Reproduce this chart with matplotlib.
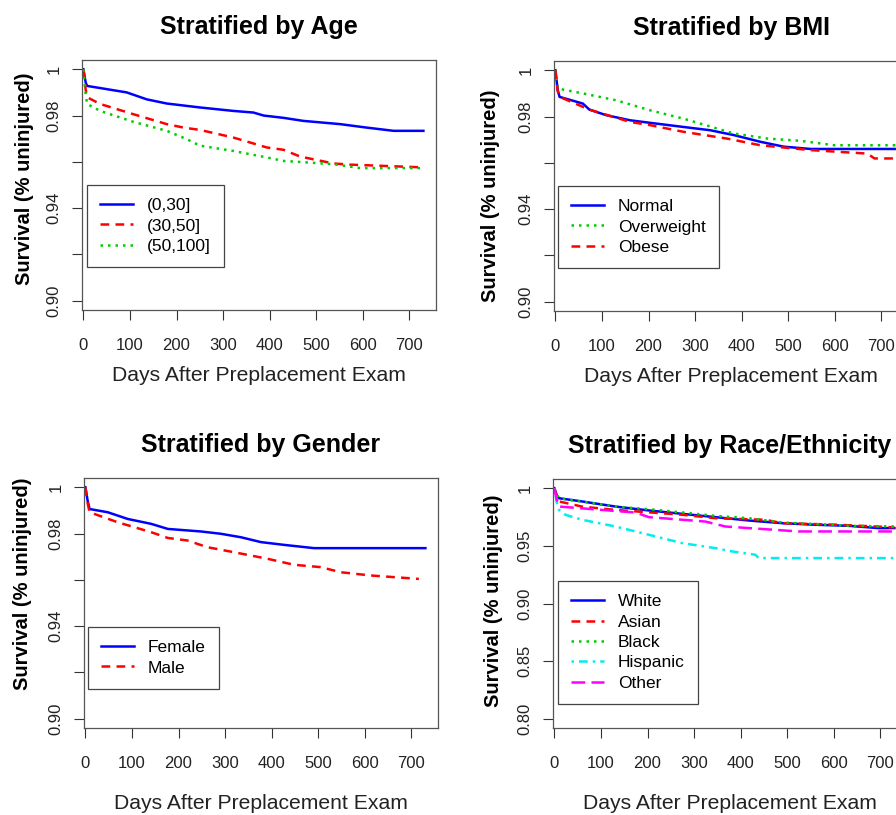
import numpy as np
import matplotlib.pyplot as plt

plt.rcParams['font.family'] = ['Liberation Sans', 'DejaVu Sans']

# ---- data ----
# Stratified by Age
age_labels = ["(0,30]", "(30,50]", "(50,100]"]
age_days = [
    [0, 5, 8, 93, 136, 179, 250, 322, 365, 387, 430, 472, 551, 608, 666, 730],
    [0, 5, 9, 36, 107, 179, 215, 250, 322, 394, 430, 465, 537, 573, 730],
    [0, 5, 8, 36, 107, 179, 222, 250, 322, 394, 430, 537, 594, 730],
]
age_surv = [
    [1.0, 0.9942, 0.9928, 0.990, 0.987, 0.9852, 0.9835, 0.982, 0.9813, 0.980, 0.979, 0.9777, 0.9763, 0.9748, 0.9734, 0.9734],
    [1.0, 0.991, 0.9878, 0.985, 0.9806, 0.9763, 0.9748, 0.9738, 0.9705, 0.9662, 0.9652, 0.9623, 0.9593, 0.9588, 0.9576],
    [1.0, 0.989, 0.985, 0.982, 0.9773, 0.9734, 0.9698, 0.967, 0.9647, 0.9619, 0.9604, 0.959, 0.9573, 0.9573],
]

# Stratified by BMI
bmi_labels = ["Normal", "Overweight", "Obese"]
bmi_days = [
    [0, 5, 9, 59, 73, 109, 160, 203, 275, 332, 383, 440, 490, 548, 730],
    [0, 5, 59, 131, 203, 275, 383, 455, 527, 599, 730],
    [0, 5, 9, 73, 160, 203, 275, 368, 440, 548, 670, 685, 730],
]
bmi_surv = [
    [1.0, 0.9914, 0.9885, 0.9856, 0.983, 0.9806, 0.9784, 0.9773, 0.9755, 0.9741, 0.972, 0.9691, 0.967, 0.966, 0.966],
    [1.0, 0.9921, 0.990, 0.987, 0.9827, 0.9791, 0.9727, 0.9705, 0.9695, 0.9676, 0.9676],
    [1.0, 0.991, 0.9885, 0.983, 0.9777, 0.9763, 0.9734, 0.9705, 0.9676, 0.9655, 0.964, 0.9619, 0.9619],
]

# Stratified by Gender
gender_labels = ["Female", "Male"]
gender_days = [
    [0, 5, 9, 48, 91, 141, 177, 248, 291, 334, 377, 427, 491, 730],
    [0, 5, 9, 69, 141, 177, 219, 262, 320, 391, 448, 505, 548, 612, 716],
]
gender_surv = [
    [1.0, 0.994, 0.9906, 0.9892, 0.9863, 0.9842, 0.982, 0.9809, 0.9799, 0.9784, 0.9763, 0.9751, 0.9737, 0.9737],
    [1.0, 0.993, 0.9892, 0.9849, 0.9806, 0.9781, 0.977, 0.9741, 0.9719, 0.9691, 0.9665, 0.9655, 0.9633, 0.9619, 0.9604],
]

# Stratified by Race/Ethnicity
race_labels = ["White", "Asian", "Black", "Hispanic", "Other"]
race_days = [
    [0, 5, 10, 60, 131, 203, 274, 346, 417, 489, 560, 631, 696, 730],
    [0, 5, 10, 60, 131, 274, 346, 453, 489, 610, 730],
    [0, 5, 10, 131, 203, 274, 346, 417, 489, 560, 631, 730],
    [0, 5, 10, 24, 60, 131, 203, 274, 346, 381, 431, 439, 730],
    [0, 5, 10, 174, 203, 324, 367, 524, 730],
]
race_surv = [
    [1.0, 0.994, 0.9913, 0.9885, 0.9841, 0.9807, 0.9778, 0.9749, 0.972, 0.9697, 0.9683, 0.9674, 0.9654, 0.9654],
    [1.0, 0.992, 0.9885, 0.984, 0.9812, 0.977, 0.974, 0.9726, 0.9697, 0.9683, 0.966],
    [1.0, 0.994, 0.9913, 0.9841, 0.9818, 0.979, 0.976, 0.974, 0.9703, 0.9689, 0.9674, 0.9668],
    [1.0, 0.988, 0.9812, 0.9769, 0.9726, 0.9668, 0.9596, 0.9524, 0.948, 0.9452, 0.9423, 0.9394, 0.9394],
    [1.0, 0.99, 0.9841, 0.9789, 0.9749, 0.9711, 0.9668, 0.9625, 0.9625],
]

# R-like line styles: (color, dash pattern)
styles = [
    ("#0000FF", None),            # solid
    ("#FF0000", (3.5, 2.5)),      # dashed
    ("#00CD00", (1.0, 2.0)),      # dotted
    ("#00EEEE", (1.0, 2.0, 3.5, 2.0)),  # dotdash
    ("#FF00FF", (5.5, 2.5)),      # longdash
]
bmi_styles = [styles[0], styles[2], styles[1]]

W, H = 896, 815
fig = plt.figure(figsize=(W / 100, H / 100), dpi=100)


def px_axes(left, top, right, bottom):
    return fig.add_axes([left / W, 1 - bottom / H, (right - left) / W, (bottom - top) / H])


def panel(ax, box, title, days, surv, labels, sty, ylim, yticks, ylabels, leg_anchor, xpad, ylab_px):
    left, top, right, bottom = box
    for d, s, lab, (c, dash) in zip(days, surv, labels, sty):
        line, = ax.plot(d, s, color=c, lw=1.8, label=lab)
        if dash is not None:
            line.set_dashes(dash)
    ax.set_xlim(-3, 757)
    ax.set_ylim(*ylim)
    ax.set_xticks(range(0, 800, 100))
    ax.set_yticks(yticks)
    ax.set_yticklabels(ylabels, rotation=90, va='center')
    ax.tick_params(direction='out', length=7.5, width=0.8, labelsize=12, colors='#333333',
                   labelcolor='#222222')
    ax.tick_params(axis='x', pad=12.5)
    ax.tick_params(axis='y', pad=7)
    for sp in ax.spines.values():
        sp.set_color('#555555')
        sp.set_linewidth(0.9)
    ax.set_title(title, fontsize=18, fontweight='bold', pad=19)
    ax.set_xlabel("Days After Preplacement Exam", fontsize=15.2, labelpad=xpad, color='#222222')
    ax.set_ylabel("Survival (% uninjured)", fontsize=14.5, fontweight='bold', va='center')
    # place y label centre at the pixel position seen in the reference
    lx, ly = ylab_px
    ax.yaxis.set_label_coords((lx - left) / (right - left), (bottom - ly) / (bottom - top))
    leg = ax.legend(loc='upper left', bbox_to_anchor=leg_anchor, fontsize=12.5, frameon=True,
                    fancybox=False, edgecolor='#444444', framealpha=1, handlelength=1.9,
                    handletextpad=0.8, labelspacing=0.3, borderpad=0.75, borderaxespad=0)
    leg.get_frame().set_linewidth(0.9)


b1 = (82, 60, 436, 310)
ax1 = px_axes(*b1)
panel(ax1, b1, "Stratified by Age", age_days, age_surv, age_labels, styles[:3],
      (0.896, 1.004), [0.90, 0.92, 0.94, 0.96, 0.98, 1.0],
      ["0.90", "", "0.94", "", "0.98", "1"], (0.014, 0.5), 9.5, (25, 179))

b2 = (554, 61, 908, 311)
ax2 = px_axes(*b2)
panel(ax2, b2, "Stratified by BMI", bmi_days, bmi_surv, bmi_labels, bmi_styles,
      (0.896, 1.004), [0.90, 0.92, 0.94, 0.96, 0.98, 1.0],
      ["0.90", "", "0.94", "", "0.98", "1"], (0.011, 0.5), 9.5, (491, 196))

b3 = (84, 478, 438, 728)
ax3 = px_axes(*b3)
panel(ax3, b3, "Stratified by Gender", gender_days, gender_surv, gender_labels, styles[:2],
      (0.896, 1.004), [0.90, 0.92, 0.94, 0.96, 0.98, 1.0],
      ["0.90", "", "0.94", "", "0.98", "1"], (0.011, 0.404), 17, (23, 584))

b4 = (553, 479, 907, 728)
ax4 = px_axes(*b4)
panel(ax4, b4, "Stratified by Race/Ethnicity", race_days, race_surv, race_labels, styles,
      (0.792, 1.008), [0.80, 0.85, 0.90, 0.95, 1.0],
      ["0.80", "0.85", "0.90", "0.95", "1"], (0.014, 0.59), 17, (493, 601))

fig.savefig("out.png", dpi=100)
